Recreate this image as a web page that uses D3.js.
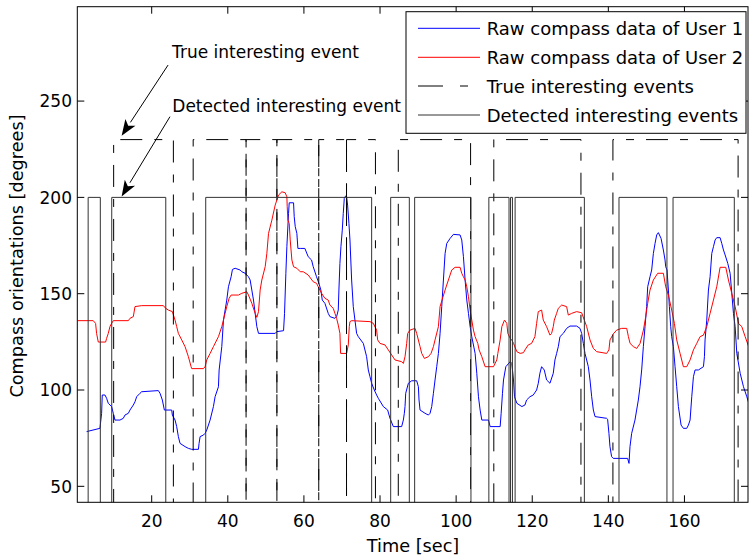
<!DOCTYPE html>
<html><head><meta charset="utf-8">
<script src="https://cdn.jsdelivr.net/npm/d3@7"></script>
<style>body{margin:0;background:#fff}svg{display:block}text{font-family:"DejaVu Sans",sans-serif;fill:#000}</style>
</head><body><svg id="c" width="749" height="559"></svg>
<script>
// ---------- data ----------
const blueT = [2.89,6.40,6.84,7.01,7.72,8.15,8.59,9.47,9.91,10.35,11.66,12.54,12.98,13.86,14.29,15.17,15.61,16.05,16.93,17.36,21.75,22.19,22.80,23.33,25.26,25.43,26.14,26.57,27.01,27.45,28.77,29.64,30.52,32.28,32.45,32.72,33.59,34.03,34.47,35.35,36.22,36.66,37.54,37.72,38.42,38.86,39.73,40.17,40.87,41.22,41.93,43.24,43.68,44.56,45.43,45.87,46.31,46.75,47.19,47.63,48.07,52.45,52.89,54.65,54.91,55.26,55.52,55.96,56.14,57.28,57.45,57.72,58.15,58.42,59.03,
60.25,61.13,62.01,62.45,63.32,63.94,64.46,64.82,65.52,66.39,66.83,68.15,68.59,69.03,69.20,69.46,69.73,70.08,70.34,70.61,70.96,71.22,71.48,71.83,72.10,72.54,72.97,73.41,73.85,74.29,75.61,76.48,76.92,77.36,77.80,78.50,79.11,79.55,80.87,82.01,82.62,83.50,85.69,86.13,86.39,86.57,86.66,86.75,87.45,88.32,89.64,90.08,90.25,90.52,91.83,92.71,93.15,93.59,94.03,94.46,94.90,95.34,95.78,96.22,96.66,97.10,97.54,98.41,99.29,101.04,101.48,101.92,102.36,102.80,103.24,103.68,104.11,104.99,105.43,105.87,106.31,106.75,108.50,108.94,111.57,111.83,112.18,112.45,113.06,114.20,114.64,115.08,115.34,115.96,117.27,
118.08,118.52,119.39,120.27,121.15,121.59,122.02,122.46,123.16,123.78,124.66,125.53,125.97,126.41,126.85,127.29,128.16,129.04,129.92,131.67,132.55,132.99,133.43,133.87,134.74,135.18,135.62,136.06,136.50,139.55,139.81,140.16,140.43,140.86,141.30,145.07,145.43,145.69,146.13,147.00,147.44,147.88,148.32,148.76,149.20,149.64,150.07,150.34,150.95,151.39,151.83,152.27,152.71,153.14,153.85,154.46,154.90,155.07,155.42,155.60,155.78,156.04,156.39,156.65,157.09,157.53,157.97,158.41,159.11,159.72,160.60,161.04,161.48,161.92,162.36,162.79,163.67,164.99,165.25,165.42,165.86,166.30,166.74,167.18,167.62,168.06,168.49,169.37,169.81,170.25,170.69,171.39,172.00,172.44,172.88,173.32,173.76,174.64,175.51,176.39,177.18];
const blueV = [78.4,80.1,87.9,97.4,97.4,95.7,93.1,91.4,87.9,84.4,84.4,85.3,87.0,87.9,89.6,92.2,93.9,96.5,98.3,99.1,99.7,98.3,94.8,89.6,89.6,87.0,84.4,81.0,75.8,72.3,70.6,69.7,69.2,69.2,72.3,75.8,76.6,77.5,79.2,84.4,91.4,96.5,101.7,110.4,122.5,136.3,146.7,153.6,158.8,162.6,163.2,162.3,161.4,160.6,158.8,157.1,151.9,146.7,139.8,132.9,129.4,129.4,130.3,130.8,139.8,160.6,174.4,191.7,197.2,197.2,190.0,184.8,181.3,173.5,173.5,
173.5,169.2,167.5,164.0,158.8,155.4,151.9,146.7,145.0,139.8,138.1,137.2,138.1,141.5,151.9,165.7,174.4,183.0,191.7,199.5,200.7,200.3,196.0,186.5,177.9,157.1,143.3,136.3,129.4,127.7,124.2,117.3,110.4,106.9,103.5,100.0,97.4,95.7,91.4,89.6,85.3,81.0,81.0,84.4,87.9,91.4,94.8,98.3,103.5,104.8,104.8,101.7,94.8,89.6,87.9,87.0,87.9,91.4,98.3,105.2,112.1,119.0,129.4,143.3,157.1,170.9,176.1,178.7,180.8,180.5,177.9,169.2,157.1,146.7,139.8,132.9,127.7,119.0,108.7,96.5,89.6,84.4,84.4,81.0,81.0,87.9,98.3,105.2,112.1,114.7,113.8,105.2,96.5,93.1,91.4,
92.2,94.8,96.5,97.4,100.0,103.5,108.7,112.1,110.4,105.2,103.5,108.7,115.6,119.0,122.5,127.7,129.4,132.0,133.2,133.2,132.0,129.4,124.2,119.0,112.1,105.2,96.5,89.6,86.2,85.3,84.8,77.5,70.6,65.4,64.5,64.5,61.9,70.6,77.5,84.4,89.6,94.8,101.7,110.4,122.5,132.9,143.3,153.6,158.8,162.3,170.9,176.1,180.5,181.7,178.7,172.7,167.5,164.0,162.3,157.1,151.9,143.3,132.9,127.7,122.5,112.1,101.7,91.4,81.8,80.1,80.1,81.8,84.4,96.5,106.9,110.4,110.4,112.1,117.3,126.0,136.3,151.9,158.8,170.9,174.4,177.9,179.1,179.1,176.1,172.7,170.1,165.7,160.6,150.2,139.8,132.9,119.0,108.7,101.7,96.5,91.4];

const redT = [0.52,4.64,5.26,5.52,5.96,7.89,8.15,8.59,9.03,9.47,9.91,13.86,14.29,15.17,15.61,17.36,23.07,23.68,24.38,25.43,26.14,26.57,27.01,27.89,28.77,29.64,30.35,30.52,33.59,34.03,34.47,35.35,36.22,37.54,38.42,38.86,39.29,39.73,40.35,40.87,42.80,43.68,44.99,45.43,46.31,47.19,47.63,48.07,48.50,48.94,49.82,50.26,50.70,51.58,52.45,53.33,54.21,55.08,55.52,55.61,55.79,56.14,56.40,56.84,57.28,58.15,59.03,
59.82,61.13,62.45,63.32,63.76,64.64,65.52,66.39,66.83,67.71,68.15,68.59,69.03,69.46,69.64,71.22,71.66,71.92,72.10,72.54,77.36,78.24,79.11,79.38,79.99,81.31,82.18,83.06,83.94,85.69,86.13,86.57,87.01,87.27,87.89,89.20,89.64,90.52,90.96,91.66,92.71,93.41,94.03,94.46,95.34,95.78,97.10,97.97,98.85,99.73,101.04,101.48,101.92,102.36,102.80,103.24,103.68,104.11,104.55,104.99,105.69,106.04,106.75,107.62,109.82,110.69,110.96,111.57,112.01,112.71,113.32,113.59,114.20,114.64,115.08,115.96,116.83,117.71,
118.08,118.95,119.83,120.71,121.15,121.59,122.46,122.90,123.78,124.66,125.09,125.53,125.80,126.41,126.85,127.73,129.04,129.48,130.36,131.67,132.99,134.31,135.18,136.06,136.94,139.55,140.16,140.43,141.30,142.18,143.50,144.83,145.27,145.71,146.59,147.46,148.34,149.22,149.83,150.34,150.95,151.83,152.97,154.46,155.07,155.78,156.65,157.36,157.97,158.85,159.72,160.60,161.48,162.36,163.23,164.11,164.99,165.86,166.74,167.62,168.49,169.37,170.86,171.56,172.44,173.32,174.20,175.07,175.95,177.18];
const redV = [136.0,136.0,134.6,129.4,124.9,124.9,126.8,129.4,132.9,134.6,136.0,136.0,137.2,138.1,143.3,143.8,143.8,142.4,141.5,140.7,136.3,132.9,129.4,126.0,122.5,117.3,112.1,111.1,111.1,112.1,115.6,119.0,122.5,127.7,132.9,136.3,139.8,143.3,147.6,149.3,149.3,150.2,151.0,149.3,145.0,139.8,137.7,140.7,151.9,157.1,164.0,170.9,181.3,188.2,196.0,201.2,202.9,202.4,200.3,195.2,188.2,186.5,177.9,167.5,164.0,163.2,161.4,
161.4,159.7,156.2,155.4,153.6,150.2,147.6,146.7,144.1,142.4,139.8,137.2,133.7,129.4,119.0,119.0,123.4,132.9,135.5,136.0,135.5,134.6,131.1,126.0,124.2,123.4,120.8,118.2,115.6,114.7,113.8,117.3,124.2,129.4,131.1,132.0,129.4,122.5,119.0,116.4,117.3,119.0,122.5,126.0,132.9,143.3,151.9,157.1,162.3,163.7,163.7,160.6,158.8,157.1,153.6,148.4,141.5,136.3,131.1,127.7,124.2,120.8,117.3,112.1,112.1,115.6,119.0,126.0,132.9,136.3,134.6,129.4,126.8,126.0,124.2,119.9,119.0,119.4,
120.8,123.4,124.2,127.7,134.6,140.7,141.5,136.3,132.9,128.5,129.4,132.9,136.3,139.8,142.4,144.1,143.3,138.9,139.8,140.7,140.1,132.9,126.0,121.6,119.9,119.0,120.8,126.0,129.1,131.1,132.0,132.0,127.7,124.2,122.5,121.6,124.2,131.1,138.1,145.0,151.9,157.1,160.6,160.6,153.6,149.3,141.5,134.6,126.0,119.0,112.1,112.1,115.6,120.8,124.2,127.7,128.5,132.9,139.8,146.7,153.6,163.7,163.7,157.1,150.2,143.3,134.6,132.9,127.7,120.8];

// event intervals: true (level 230), detected (level 200); low level 0 (off chart)
const trueStart = [10.0,30.9,44.8,52.9,63.9,71.2,84.8,109.9,141.2];
const trueEnd   = [25.7,44.8,52.9,63.9,71.2,78.8,103.8,132.8,174.1];
const detStart  = [3.3,9.5,34.2,82.8,89.1,108.6,114.3,115.5,142.8,157.0];
const detEnd    = [6.5,23.7,77.8,87.7,103.9,113.9,114.8,133.7,155.4,173.1];
const trueLevel = 230, detLevel = 200, lowLevel = 0;

const xTicks = [20,40,60,80,100,120,140,160];
const yTicks = [50,100,150,200,250];
const seriesNames = ["Raw compass data of User 1","Raw compass data of User 2","True interesting events","Detected interesting events"];
const xLabel = "Time [sec]";
const yLabel = "Compass orientations [degrees]";
const notes = ["True interesting event","Detected interesting event"];

// ---------- layout ----------
const L = 77.3, R = 748, T = 6.7, B = 502.3;
const x = d3.scaleLinear().domain([0.45, 176.7]).range([L, R]);
const y = d3.scaleLinear().domain([41.7, 299]).range([B, T]);
const svg = d3.select("#c");
svg.append("rect").attr("width",749).attr("height",559).attr("fill","#fff");
svg.append("defs").append("clipPath").attr("id","clip")
  .append("rect").attr("x",L).attr("y",T).attr("width",R-L).attr("height",B-T);

const plot = svg.append("g").attr("clip-path","url(#clip)");
const line = d3.line().x(d=>x(d[0])).y(d=>y(d[1]));
const zip = (a,b)=>a.map((t,i)=>[t,b[i]]);
function steps(s,e,hi,lo){const p=[[x.domain()[0],lo]];s.forEach((v,i)=>{p.push([v,lo],[v,hi],[e[i],hi],[e[i],lo]);});p.push([x.domain()[1],lo]);return p;}

plot.append("path").datum(zip(blueT,blueV)).attr("d",line).attr("fill","none").attr("stroke","#0000ff").attr("stroke-width",1);
plot.append("path").datum(zip(redT,redV)).attr("d",line).attr("fill","none").attr("stroke","#ff0000").attr("stroke-width",1);
plot.append("path").datum(steps(trueStart,trueEnd,trueLevel,lowLevel)).attr("d",line).attr("fill","none")
  .attr("stroke","#000").attr("stroke-width",1).attr("stroke-dasharray","22,12,8,12");
plot.append("path").datum(steps(detStart,detEnd,detLevel,lowLevel)).attr("d",line).attr("fill","none")
  .attr("stroke","#333").attr("stroke-width",1);

// ---------- axes ----------
const ax = svg.append("g").attr("fill","none").attr("stroke","#000").attr("stroke-width",1);
ax.append("rect").attr("x",L).attr("y",T).attr("width",R-L).attr("height",B-T);
const tl = 7;
xTicks.forEach(t=>{
  ax.append("line").attr("x1",x(t)).attr("x2",x(t)).attr("y1",B).attr("y2",B-tl);
  ax.append("line").attr("x1",x(t)).attr("x2",x(t)).attr("y1",T).attr("y2",T+tl);
});
yTicks.forEach(v=>{
  ax.append("line").attr("x1",L).attr("x2",L+tl).attr("y1",y(v)).attr("y2",y(v));
  ax.append("line").attr("x1",R).attr("x2",R-tl).attr("y1",y(v)).attr("y2",y(v));
});
svg.append("g").selectAll("text").data(xTicks).join("text")
  .attr("x",d=>x(d)).attr("y",527).attr("text-anchor","middle").attr("font-size",17).text(d=>d);
svg.append("g").selectAll("text").data(yTicks).join("text")
  .attr("x",72).attr("y",d=>y(d)+6.2).attr("text-anchor","end").attr("font-size",17).text(d=>d);
svg.append("text").attr("x",413).attr("y",552).attr("text-anchor","middle").attr("font-size",17.7).text(xLabel);
svg.append("text").attr("transform","translate(23,256) rotate(-90)").attr("text-anchor","middle").attr("font-size",17.7).text(yLabel);

// ---------- annotations ----------
function arrow(t0,v0,t1,v1){
  const x0=x(t0),y0=y(v0),x1=x(t1),y1=y(v1);
  const a=Math.atan2(y1-y0,x1-x0), len=16, w=6;
  const bx=x1-len*Math.cos(a), by=y1-len*Math.sin(a);
  svg.append("line").attr("x1",x0).attr("y1",y0).attr("x2",bx).attr("y2",by).attr("stroke","#000").attr("stroke-width",1);
  const px=-Math.sin(a), py=Math.cos(a);
  const ix=x1-len*0.75*Math.cos(a), iy=y1-len*0.75*Math.sin(a);
  svg.append("path").attr("d",`M${x1},${y1}L${bx+w*px},${by+w*py}L${ix},${iy}L${bx-w*px},${by-w*py}Z`).attr("fill","#000");
}
arrow(24.3,268.7,12.1,232.0);
arrow(24.8,241.9,12.1,200.5);
svg.append("text").attr("x",172).attr("y",58.3).attr("font-size",17).text(notes[0]);
svg.append("text").attr("x",172.3).attr("y",111.7).attr("font-size",17).text(notes[1]);

// ---------- legend ----------
const lg = svg.append("g");
lg.append("rect").attr("x",406).attr("y",11.7).attr("width",340).attr("height",121.6).attr("fill","#fff").attr("stroke","#000");
const rowY = [28.3,57.3,86,115];
const lcol = ["#0000ff","#ff0000","#000","#333"];
const ldash = [null,null,"25,17,8,17",null];
seriesNames.forEach((n,i)=>{
  lg.append("line").attr("x1",418).attr("x2",480).attr("y1",rowY[i]).attr("y2",rowY[i])
    .attr("stroke",lcol[i]).attr("stroke-width",1).attr("stroke-dasharray",ldash[i]);
  lg.append("text").attr("x",486.7).attr("y",rowY[i]+7).attr("font-size",18).text(n);
});
</script></body></html>
